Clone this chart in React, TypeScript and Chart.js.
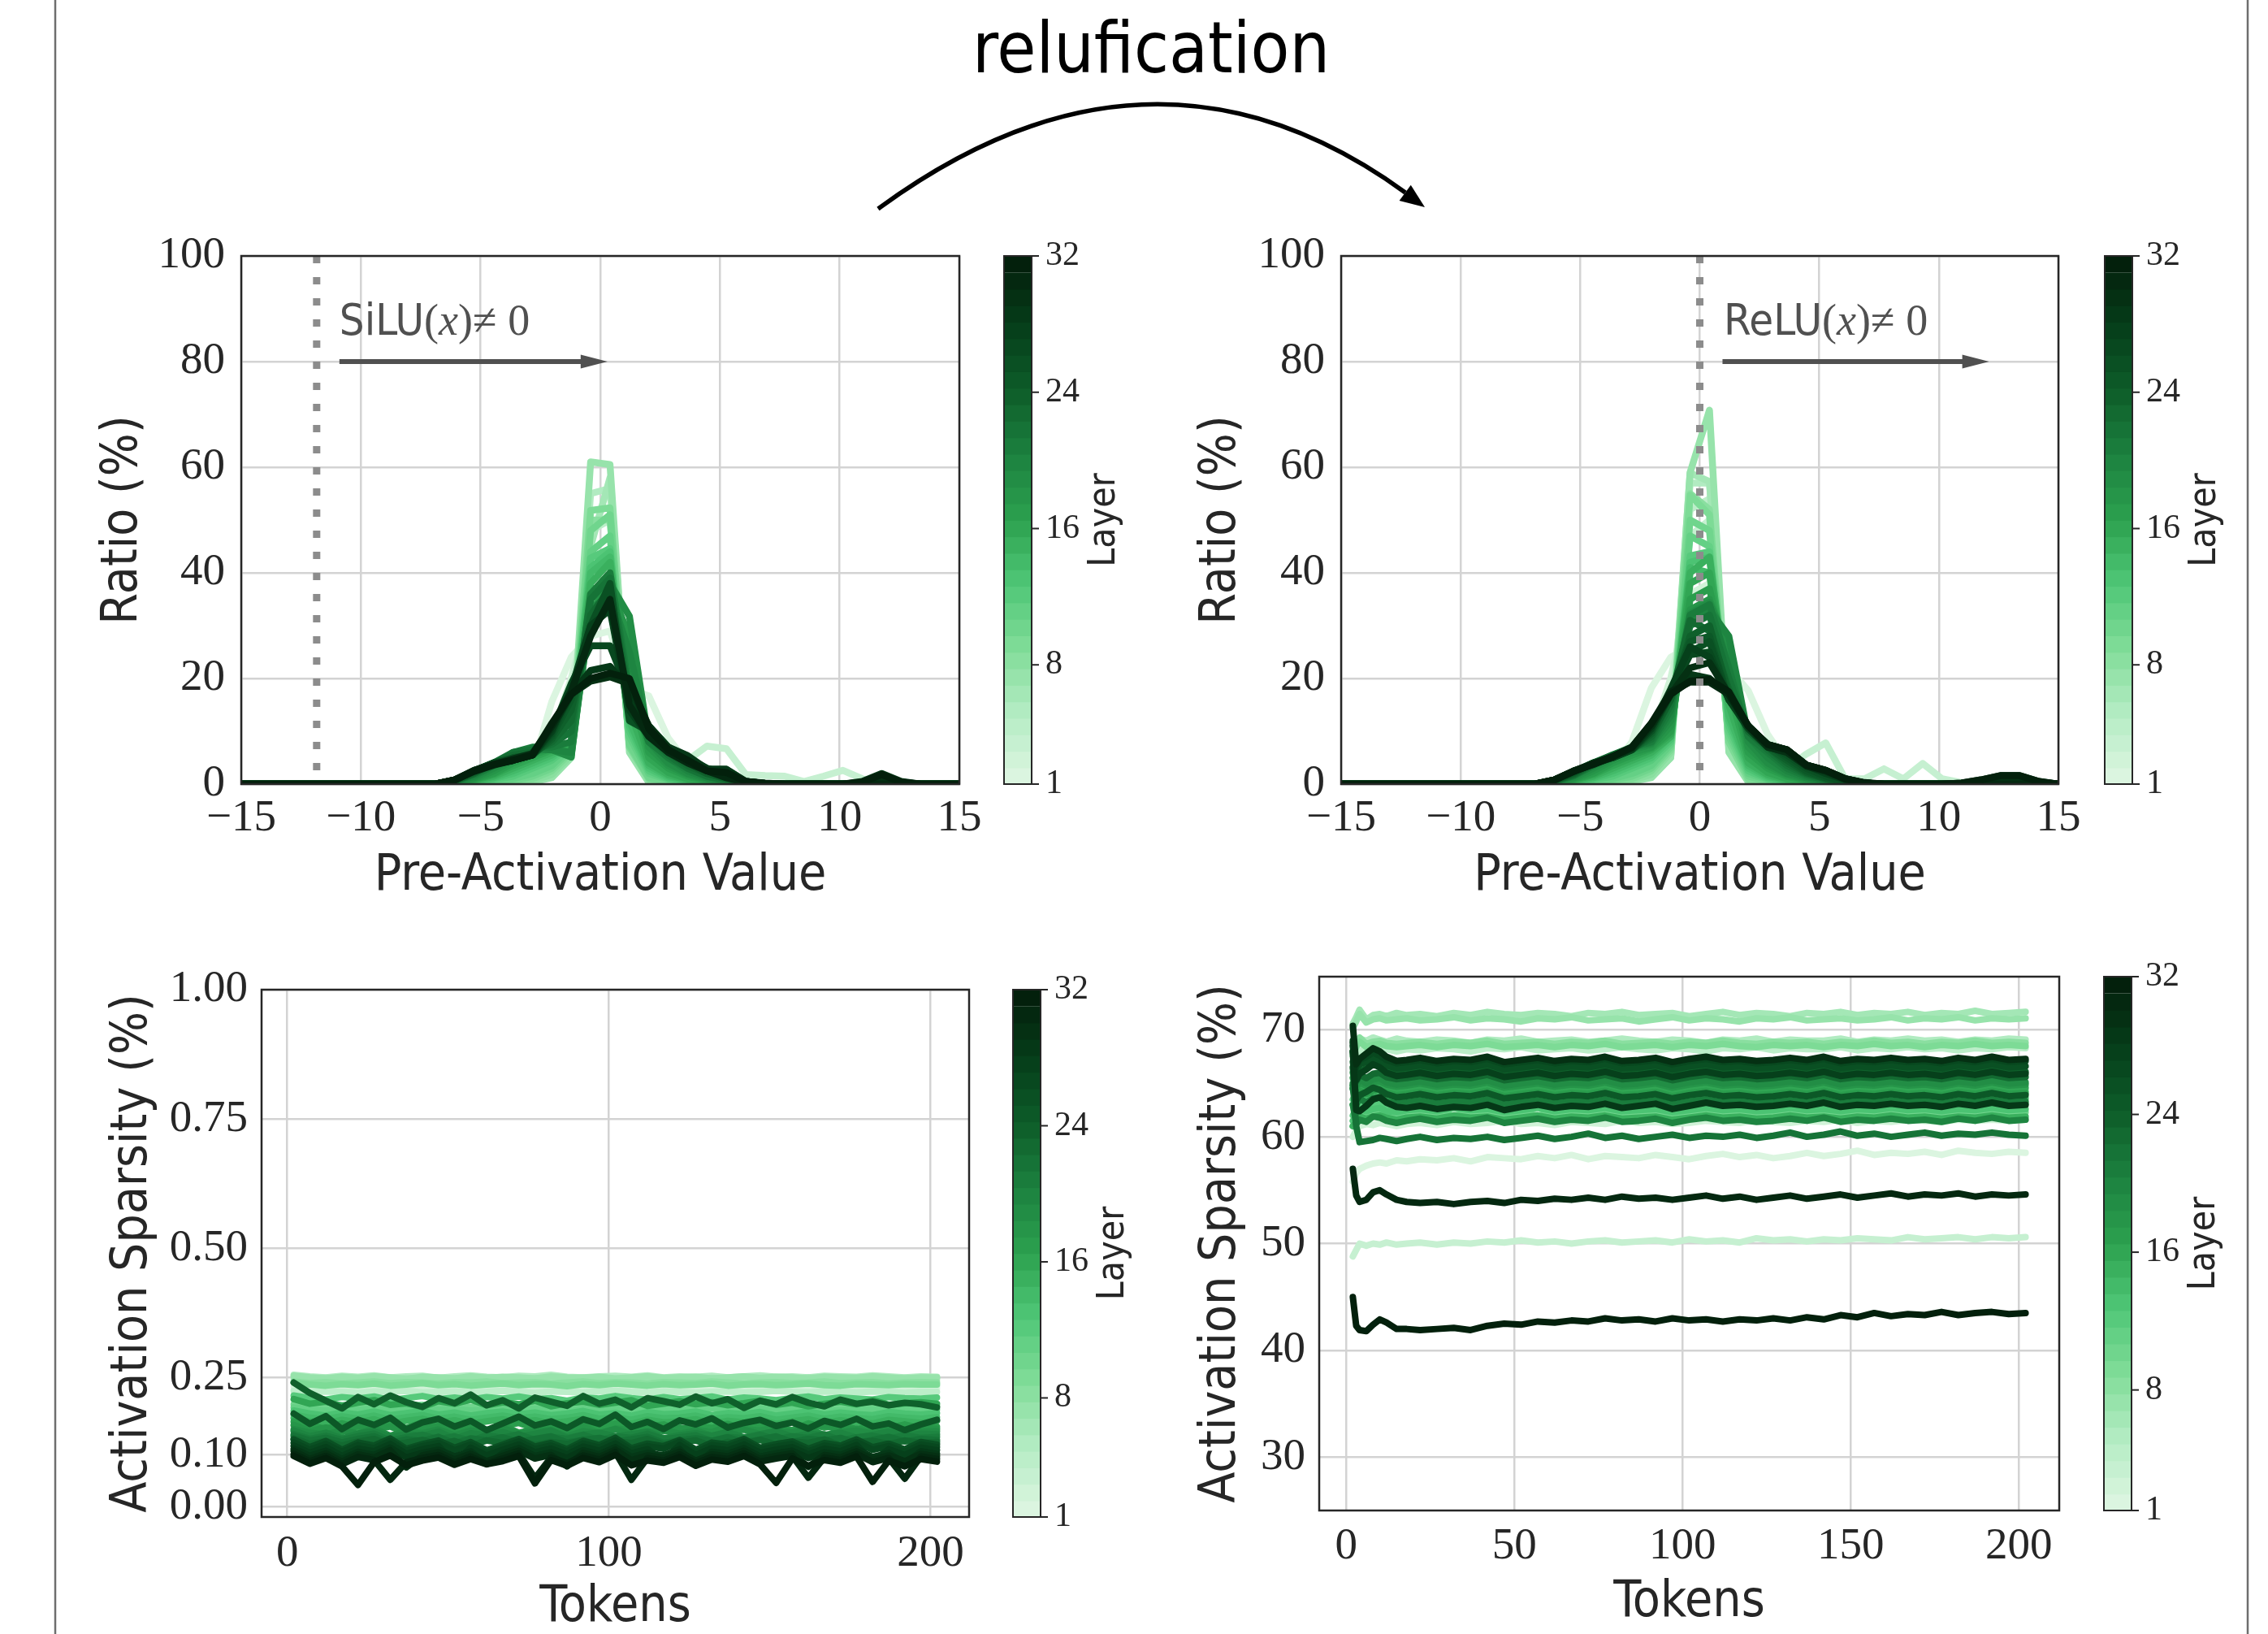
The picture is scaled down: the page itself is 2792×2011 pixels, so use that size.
import React, { useEffect, useRef } from "react";
import { Chart, registerables } from "chart.js";

Chart.register(...registerables);

// ======================= DATA =======================
const N_LAYERS = 32;
const LAYER_TICKS = [1, 8, 16, 24, 32];
// colour stops (layer 1 -> layer 32)
const CMAP_STOPS = ["#dbf5e0", "#b3ecc2", "#80dc98", "#4fc777", "#2ca14f", "#1c8240", "#0e5e2a", "#063f1a", "#03200c"];

// histogram bin positions (pre-activation value)
const X_HIST = [
  -15, -14.189, -13.378, -12.568, -11.757, -10.946, -10.135, -9.324, -8.514, -7.703,
  -6.892, -6.081, -5.27, -4.459, -3.649, -2.838, -2.027, -1.216, -0.405, 0.405,
  1.216, 2.027, 2.838, 3.649, 4.459, 5.27, 6.081, 6.892, 7.703, 8.514,
  9.324, 10.135, 10.946, 11.757, 12.568, 13.378, 14.189, 15,
];
const HIST_X_TICKS = [-15, -10, -5, 0, 5, 10, 15];
const HIST_Y_TICKS = [0, 20, 40, 60, 80, 100];

// Ratio (%) per layer (rows = layer 1..32), SiLU model
const SILU_RATIO: number[][] = [
  [0,0,0,0,0,0,0,0,0,0, 0,0,0.1,0.3,1,3,15.6,24,28,29,18,16.7,8.7, 4,2,1,0.3,0.1,0,0,0,0,0,0,0,0,0,0],
  [0,0,0,0,0,0,0,0,0,0, 0,0,0,0.2,0.8,2.5,9,20,34,36,16,9,5, 3,1.5,0.6,0.2,0,0,0,0,0,0,0,0,0,0,0],
  [0,0,0,0,0,0,0,0,0,0, 0,0,0,0.1,0.5,1.5,6,17,40,42,12,6,4, 4.5,7.2,6.7,1.8,1.6,1.5,0.5,1.5,2.6,1,0,0,0,0,0],
  [0,0,0,0,0,0,0,0,0,0, 0,0,0,0,0.3,1,1.5,6,48,50,8,0.5,0.2, 0,0,0,0,0,0,0,0,0,0,0,0,0,0,0],
  [0,0,0,0,0,0,0,0,0,0, 0,0,0,0,0.2,0.8,1.5,5.5,55,56,7,0.5,0.2, 0,0,0,0,0,0,0,0,0,0,0,0,0,0,0],
  [0,0,0,0,0,0,0,0,0,0, 0,0,0,0,0.2,0.5,1.5,5,45,58,7,0.4,0.1, 0,0,0,0,0,0,0,0,0,0,0,0,0,0,0],
  [0,0,0,0,0,0,0,0,0,0, 0,0,0,0,0.2,0.4,1.2,5,61,60.5,6,0.3,0.1, 0,0,0,0,0,0,0,0,0,0,0,0,0,0,0],
  [0,0,0,0,0,0,0,0,0,0, 0,0,0,0.1,0.3,0.6,1.8,5.5,50,50,8,0.8,0.3, 0,0,0,0,0,0,0,0,0,0,0,0,0,0,0],
  [0,0,0,0,0,0,0,0,0,0, 0,0,0,0.2,0.5,1,2.5,6,51.8,52.3,7,1,0.4, 0.1,0,0,0,0,0,0,0,0,0,0,0,0,0,0],
  [0,0,0,0,0,0,0,0,0,0, 0,0,0.1,0.3,0.6,1.5,3,6.5,48,51,7.5,1.2,0.5, 0.2,0,0,0,0,0,0,0,0,0,0,0,0,0,0],
  [0,0,0,0,0,0,0,0,0,0, 0,0,0.2,0.5,1,2,3.5,7,44,47,9,2,0.8, 0.3,0.1,0,0,0,0,0,0,0,0,0,0,0,0,0],
  [0,0,0,0,0,0,0,0,0,0, 0,0,0.3,0.8,1.5,3,4.5,7.5,42.8,44.6,10,2.5,1, 0.4,0.1,0,0,0,0,0,0,0,0,0,0,0,0,0],
  [0,0,0,0,0,0,0,0,0,0, 0,0.1,0.4,1,2,3.5,5,8,41,44,11,3,1.2, 0.5,0.2,0,0,0,0,0,0,0,0,0,0,0,0,0],
  [0,0,0,0,0,0,0,0,0,0, 0,0.1,0.5,1.2,2.5,4,5.5,8,40,43,12,3.5,1.5, 0.6,0.2,0,0,0,0,0,0,0,0,0,0,0,0,0],
  [0,0,0,0,0,0,0,0,0,0, 0,0.2,0.6,1.5,3,4.5,6,7.5,38,42,14,4,1.8, 0.8,0.3,0,0,0,0,0,0,0,0,0,0,0,0,0],
  [0,0,0,0,0,0,0,0,0,0, 0,0.2,0.7,1.8,3.5,5,6.5,7,36,40,18,5,2.2, 1,0.4,0.1,0,0,0,0,0,0,0,0,0,0,0,0],
  [0,0,0,0,0,0,0,0,0,0, 0,0.3,0.9,2,4,5.5,6.8,6,35,38,22,6,3, 1.5,0.6,0.2,0,0,0,0,0,0,0,0,0,0,0,0],
  [0,0,0,0,0,0,0,0,0,0, 0,0.3,1,2.5,4.5,6,6.9,5.5,33,37,28,7,3.5, 1.8,0.8,0.3,0,0,0,0,0,0,0,0,0,0,0,0],
  [0,0,0,0,0,0,0,0,0,0, 0,0.3,1.2,3,5,6.5,6.5,5.1,35,38,31.8,8,4, 2,1,0.3,0,0,0,0,0,0,0,0,0,0,0,0],
  [0,0,0,0,0,0,0,0,0,0, 0,0.4,1.5,3.5,5.5,6.8,6.5,6,33,36,25,9,5, 2.5,1.2,0.5,0,0,0,0,0,0,0,0,0,0,0,0],
  [0,0,0,0,0,0,0,0,0,0, 0,0.5,1.8,3.5,6,7,7,8,36,40,18,8,5, 3,1.5,0.6,0,0,0,0,0,0,0,0,0,0,0,0],
  [0,0,0,0,0,0,0,0,0,0, 0,0.5,2,4,6,6.5,7.5,10,35,39,16,9,5.5, 3,1.5,0.8,0.2,0,0,0,0,0,0,0,0,0,0,0],
  [0,0,0,0,0,0,0,0,0,0, 0,0.6,2,4,5.5,6,8,12,32,37,15,10,6, 3.5,2,1,0.2,0,0,0,0,0,0,0,0,0,0,0],
  [0,0,0,0,0,0,0,0,0,0, 0,0.6,2.2,4,5,5.5,8.5,14,30,35,14,10,6.5, 4,2,1,0.3,0,0,0,0,0,0,0,0,0,0,0],
  [0,0,0,0,0,0,0,0,0,0, 0,0.7,2.5,4,5,5.5,9,16,29,34,13,11,7, 4.5,2.5,1.2,0.3,0,0,0,0,0,0,0,0,0,0,0],
  [0,0,0,0,0,0,0,0,0,0, 0,0.7,2.5,4,4.8,5.5,9.5,17,30,38,12,10,6, 4.5,2.5,1.5,0.4,0,0,0,0,0,0,0,0,0,0,0],
  [0,0,0,0,0,0,0,0,0,0, 0,0.8,2.5,4,4.5,5.5,10,19,26.2,26.2,17,10,7, 5,2.8,2.8,0.5,0.1,0,0,0,0,0,0,0,0,0,0],
  [0,0,0,0,0,0,0,0,0,0, 0,0.8,2.5,3.8,4.5,5.5,10,18,30,33,14,9,6.5, 5,3,2,0.5,0.1,0,0,0,0,0,0,0,0,0,0],
  [0,0,0,0,0,0,0,0,0,0, 0,0.8,2.6,3.8,4.5,5.5,10.5,17,21.5,22.3,18,11,7, 5.4,2.8,2.8,0.5,0.2,0,0,0,0,0.5,2,0.5,0,0,0],
  [0,0,0,0,0,0,0,0,0,0, 0,0.8,2.6,3.7,4.8,5.8,11,17,19.5,20.3,19,11,6.5, 4.5,2.5,1.5,0.5,0.1,0,0,0,0,0.3,1,0.3,0,0,0],
  [0,0,0,0,0,0,0,0,0,0, 0,0.8,2.4,3.6,4.5,5.5,11,17.5,28,35,15,9,6, 4,2.5,1.2,0.3,0,0,0,0,0,0,0,0,0,0,0],
  [0,0,0,0,0,0,0,0,0,0, 0,0.8,2.5,3.7,4.5,5.5,11.5,17,20,21,20,10.5,6.5, 4.5,2.5,2.2,0.5,0.1,0,0,0,0,0.4,1.8,0.4,0,0,0],
];

// Ratio (%) per layer, ReLU (relufied) model
const RELU_RATIO: number[][] = [
  [0,0,0,0,0,0,0,0,0,0, 0,0,0.2,0.8,3,8,18.2,24,26,25,22,17.7,9.4, 4,1.5,0.5,0.2,0,0,0,0,0,0,0,0,0,0,0],
  [0,0,0,0,0,0,0,0,0,0, 0,0,0,0.3,1,3,9,20,36,38,18,8,4, 2,1,0.3,0,0,0,0,0,0,0,0,0,0,0,0],
  [0,0,0,0,0,0,0,0,0,0, 0,0,0,0.1,0.5,1.5,5,15,47,50,12,6,4, 3,5.7,7.8,1,1,2.9,1,3.9,1,0.3,0,0,0,0,0],
  [0,0,0,0,0,0,0,0,0,0, 0,0,0,0,0.3,1,1.5,5,52,54,8,1,0.3, 0,0,0,0,0,0,0,0,0,0,0,0,0,0,0],
  [0,0,0,0,0,0,0,0,0,0, 0,0,0,0,0.2,0.8,1.5,5,57,57,7,0.8,0.2, 0,0,0,0,0,0,0,0,0,0,0,0,0,0,0],
  [0,0,0,0,0,0,0,0,0,0, 0,0,0,0,0.2,0.6,1.4,6.8,58.9,57.3,7,0.5,0.2, 0,0,0,0,0,0,0,0,0,0,0,0,0,0,0],
  [0,0,0,0,0,0,0,0,0,0, 0,0,0,0,0.2,0.5,1.2,5,59,70.8,6,0.4,0.1, 0,0,0,0,0,0,0,0,0,0,0,0,0,0,0],
  [0,0,0,0,0,0,0,0,0,0, 0,0,0,0.1,0.3,0.7,1.8,6,55,52,8,0.8,0.3, 0,0,0,0,0,0,0,0,0,0,0,0,0,0,0],
  [0,0,0,0,0,0,0,0,0,0, 0,0,0,0.2,0.5,1,2.5,6.5,54.7,51,8,1,0.4, 0.1,0,0,0,0,0,0,0,0,0,0,0,0,0,0],
  [0,0,0,0,0,0,0,0,0,0, 0,0,0.1,0.3,0.7,1.5,3,7,50,48,9,1.5,0.5, 0.2,0,0,0,0,0,0,0,0,0,0,0,0,0,0],
  [0,0,0,0,0,0,0,0,0,0, 0,0,0.2,0.5,1,2,3.5,7.5,47,45,10,2,0.8, 0.3,0.1,0,0,0,0,0,0,0,0,0,0,0,0,0],
  [0,0,0,0,0,0,0,0,0,0, 0,0,0.3,0.8,1.5,3,4.5,8,43.2,44,11,2.5,1, 0.4,0.1,0,0,0,0,0,0,0,0,0,0,0,0,0],
  [0,0,0,0,0,0,0,0,0,0, 0,0.1,0.4,1,2,3.5,5,8.5,42,43,12,3,1.2, 0.5,0.2,0,0,0,0,0,0,0,0,0,0,0,0,0],
  [0,0,0,0,0,0,0,0,0,0, 0,0.1,0.5,1.2,2.5,4,5.5,9,41,40,13,3.5,1.5, 0.6,0.2,0,0,0,0,0,0,0,0,0,0,0,0,0],
  [0,0,0,0,0,0,0,0,0,0, 0,0.2,0.6,1.5,3,4.5,6,9,40,43,15,4,1.8, 0.8,0.3,0,0,0,0,0,0,0,0,0,0,0,0,0],
  [0,0,0,0,0,0,0,0,0,0, 0,0.2,0.7,1.8,3.5,5,6.5,9.5,38,40,18,5,2.2, 1,0.4,0.1,0,0,0,0,0,0,0,0,0,0,0,0],
  [0,0,0,0,0,0,0,0,0,0, 0,0.3,0.9,2,4,5.5,6.8,10,35,37,21,6,3, 1.5,0.6,0.2,0,0,0,0,0,0,0,0,0,0,0,0],
  [0,0,0,0,0,0,0,0,0,0, 0,0.3,1,2.5,4.5,6,7,11,33,35,24,7,3.5, 1.8,0.8,0.3,0,0,0,0,0,0,0,0,0,0,0,0],
  [0,0,0,0,0,0,0,0,0,0, 0,0.3,1.2,3,5,6.5,7.5,12,32.3,34.4,26,8,4, 2,1,0.3,0,0,0,0,0,0,0,0,0,0,0,0],
  [0,0,0,0,0,0,0,0,0,0, 0,0.4,1.5,3.5,5.2,6.8,7.8,13,31,33,28,9,5, 2.5,1.2,0.5,0,0,0,0,0,0,0,0,0,0,0,0],
  [0,0,0,0,0,0,0,0,0,0, 0,0.5,1.6,3.5,5.5,7,8,14,32,34,22,9,6, 3,1.5,0.6,0,0,0,0,0,0,0,0,0,0,0,0],
  [0,0,0,0,0,0,0,0,0,0, 0,0.5,1.7,3.8,5.5,6.8,8.5,15,30,32,20,10,6.5, 3.5,1.8,0.8,0.2,0,0,0,0,0,0,0,0,0,0,0],
  [0,0,0,0,0,0,0,0,0,0, 0,0.6,1.8,4,5.5,6.5,9,16,31,29,18,10,7, 4,2,1,0.2,0,0,0,0,0,0,0,0,0,0,0],
  [0,0,0,0,0,0,0,0,0,0, 0,0.6,2,4,5.2,6.5,9.5,16,28,30,17,10.5,7, 4.5,2.2,1,0.3,0,0,0,0,0,0,0,0,0,0,0],
  [0,0,0,0,0,0,0,0,0,0, 0,0.7,2.2,4,5,6.5,10,17,27,28,16,11,7.5, 5,2.5,1.2,0.3,0,0,0,0,0,0,0,0,0,0,0],
  [0,0,0,0,0,0,0,0,0,0, 0,0.7,2.3,4,5,6.5,10,17,25,27,16,11,7.5, 5.5,3,1.5,0.4,0,0,0,0,0,0,0,0,0,0,0],
  [0,0,0,0,0,0,0,0,0,0, 0,0.8,2.4,4,5,6.6,10.5,17,24.5,25,16,11,7.5, 6.5,3.6,2.6,1,0.2,0,0,0,0,0,0,0,0,0,0],
  [0,0,0,0,0,0,0,0,0,0, 0,0.8,2.4,3.8,5,6.5,10.5,18,26,24,16,10.5,7, 6,3.5,2,0.8,0.2,0,0,0,0,0,0,0,0,0,0],
  [0,0,0,0,0,0,0,0,0,0, 0,0.8,2.5,3.8,5.2,6.8,11,17,20.8,20,17,11,7.5, 6.5,3.6,2.6,1,0.2,0,0,0,0,0.2,0.8,1.6,1.6,0.5,0],
  [0,0,0,0,0,0,0,0,0,0, 0,0.8,2.5,3.8,5.2,6.8,11,17,22,23,17,11,7, 6,3.4,2.4,0.9,0.2,0,0,0,0,0.1,0.5,1.2,1.2,0.4,0],
  [0,0,0,0,0,0,0,0,0,0, 0,0.8,2.5,3.7,5.2,7,11.5,17.5,19.3,19.3,17,11,7.5, 6.5,3.6,2.6,1,0.2,0,0,0,0,0,0,0,0,0,0],
  [0,0,0,0,0,0,0,0,0,0, 0,0.8,2.4,3.8,5.2,7,11.5,17,19.5,19.8,17.5,11,7.5, 6.5,3.6,2.6,1,0.3,0,0,0,0,0.2,0.8,1.6,1.6,0.5,0],
];

// tokens for the sparsity plots
const TOKENS_SILU = [2,7,12,17,22,27,32,37,42,47,52,57,62,67,72,77,82,87,92,97,102,107,112,117,122,127,132,137,142,147,152,157,162,167,172,177,182,187,192,197,202];
const TOKENS_RELU = [2,3,4,6,8,10,12,15,18,22,27,32,37,42,47,52,57,62,67,72,77,82,87,92,97,102,107,112,117,122,127,132,137,142,147,152,157,162,167,172,177,182,187,192,197,202];
const SILU_TOKEN_TICKS = [0, 100, 200];
const RELU_TOKEN_TICKS = [0, 50, 100, 150, 200];
const SILU_SPARSITY_TICKS = [0, 0.1, 0.25, 0.5, 0.75, 1.0];
const RELU_SPARSITY_TICKS = [30, 40, 50, 60, 70];

// Activation sparsity per layer, SiLU model
const SILU_SPARSITY: number[][] = [
  [0.226,0.229,0.227,0.230,0.228,0.225,0.229,0.231,0.227,0.228,0.226,0.230,0.229,0.227,0.228,0.231,0.226,0.229,0.228,0.227,0.230,0.228,0.226,0.229,0.231,0.228,0.227,0.229,0.226,0.228,0.230,0.227,0.229,0.228,0.226,0.230,0.229,0.227,0.228,0.229,0.228],
  [0.232,0.234,0.233,0.231,0.234,0.233,0.235,0.232,0.233,0.234,0.231,0.233,0.235,0.232,0.233,0.234,0.233,0.231,0.234,0.232,0.233,0.235,0.233,0.232,0.234,0.233,0.231,0.233,0.234,0.232,0.233,0.235,0.233,0.232,0.234,0.233,0.232,0.234,0.233,0.232,0.233],
  [0.247,0.245,0.244,0.246,0.245,0.243,0.246,0.245,0.244,0.246,0.245,0.247,0.244,0.245,0.246,0.244,0.245,0.247,0.245,0.244,0.246,0.245,0.243,0.245,0.246,0.244,0.245,0.246,0.245,0.244,0.246,0.245,0.244,0.246,0.245,0.243,0.245,0.246,0.244,0.245,0.245],
  [0.224,0.221,0.223,0.222,0.220,0.223,0.222,0.224,0.221,0.222,0.223,0.221,0.222,0.224,0.222,0.220,0.223,0.222,0.221,0.223,0.224,0.222,0.221,0.223,0.222,0.220,0.222,0.223,0.221,0.222,0.224,0.222,0.221,0.223,0.222,0.221,0.223,0.222,0.220,0.222,0.222],
  [0.255,0.252,0.250,0.253,0.251,0.254,0.250,0.252,0.253,0.249,0.252,0.254,0.251,0.250,0.253,0.252,0.255,0.251,0.250,0.252,0.253,0.251,0.254,0.250,0.252,0.251,0.253,0.250,0.252,0.254,0.251,0.252,0.250,0.253,0.252,0.251,0.254,0.252,0.250,0.252,0.251],
  [0.250,0.247,0.249,0.246,0.248,0.250,0.247,0.249,0.248,0.246,0.249,0.247,0.250,0.248,0.246,0.249,0.248,0.247,0.250,0.248,0.246,0.249,0.247,0.248,0.250,0.247,0.249,0.248,0.246,0.248,0.249,0.247,0.250,0.248,0.247,0.249,0.248,0.246,0.249,0.248,0.248],
  [0.253,0.250,0.248,0.251,0.249,0.252,0.250,0.247,0.251,0.250,0.248,0.252,0.249,0.251,0.250,0.248,0.252,0.250,0.249,0.251,0.248,0.250,0.252,0.249,0.250,0.251,0.248,0.250,0.252,0.249,0.251,0.250,0.248,0.251,0.250,0.249,0.252,0.250,0.248,0.250,0.250],
  [0.242,0.239,0.241,0.238,0.240,0.242,0.239,0.241,0.240,0.238,0.241,0.240,0.242,0.239,0.240,0.241,0.238,0.240,0.242,0.239,0.241,0.240,0.238,0.241,0.240,0.239,0.242,0.240,0.238,0.240,0.241,0.239,0.240,0.242,0.239,0.240,0.241,0.238,0.240,0.241,0.240],
  [0.240,0.236,0.234,0.237,0.235,0.238,0.234,0.236,0.239,0.235,0.237,0.234,0.236,0.238,0.235,0.237,0.236,0.233,0.237,0.235,0.238,0.236,0.234,0.237,0.235,0.236,0.238,0.234,0.236,0.237,0.235,0.236,0.238,0.235,0.234,0.237,0.236,0.235,0.237,0.236,0.236],
  [0.198,0.195,0.193,0.196,0.194,0.197,0.193,0.195,0.197,0.194,0.196,0.193,0.195,0.197,0.194,0.196,0.195,0.192,0.196,0.194,0.197,0.195,0.193,0.196,0.194,0.195,0.197,0.193,0.195,0.196,0.194,0.195,0.197,0.194,0.193,0.196,0.195,0.194,0.196,0.195,0.195],
  [0.192,0.188,0.186,0.189,0.187,0.190,0.186,0.188,0.191,0.187,0.189,0.186,0.188,0.190,0.187,0.189,0.188,0.185,0.189,0.187,0.190,0.188,0.186,0.189,0.187,0.188,0.190,0.186,0.188,0.189,0.187,0.188,0.190,0.187,0.186,0.189,0.188,0.187,0.189,0.188,0.188],
  [0.215,0.210,0.207,0.212,0.209,0.213,0.206,0.210,0.214,0.208,0.211,0.207,0.212,0.209,0.213,0.208,0.210,0.205,0.211,0.209,0.214,0.210,0.207,0.212,0.208,0.210,0.213,0.207,0.211,0.209,0.206,0.210,0.213,0.208,0.211,0.209,0.207,0.212,0.210,0.209,0.211],
  [0.186,0.180,0.176,0.182,0.178,0.184,0.177,0.181,0.185,0.178,0.182,0.176,0.181,0.184,0.179,0.182,0.177,0.180,0.185,0.178,0.181,0.176,0.183,0.179,0.180,0.184,0.177,0.181,0.179,0.183,0.176,0.180,0.184,0.178,0.182,0.179,0.177,0.183,0.180,0.178,0.181],
  [0.178,0.172,0.169,0.175,0.170,0.176,0.168,0.173,0.177,0.170,0.174,0.168,0.172,0.176,0.171,0.174,0.169,0.172,0.177,0.170,0.173,0.168,0.175,0.171,0.172,0.176,0.169,0.173,0.171,0.175,0.168,0.172,0.176,0.170,0.174,0.171,0.169,0.175,0.172,0.170,0.173],
  [0.172,0.165,0.161,0.168,0.163,0.169,0.160,0.166,0.170,0.162,0.167,0.160,0.165,0.169,0.163,0.167,0.161,0.165,0.170,0.162,0.166,0.160,0.168,0.163,0.165,0.169,0.161,0.166,0.163,0.168,0.160,0.165,0.169,0.162,0.167,0.163,0.161,0.168,0.165,0.162,0.166],
  [0.208,0.199,0.203,0.195,0.201,0.206,0.197,0.200,0.193,0.204,0.199,0.207,0.196,0.202,0.198,0.205,0.194,0.200,0.203,0.197,0.201,0.206,0.195,0.199,0.204,0.198,0.202,0.196,0.200,0.205,0.197,0.201,0.194,0.199,0.203,0.198,0.206,0.197,0.200,0.202,0.199],
  [0.165,0.158,0.150,0.161,0.153,0.147,0.159,0.152,0.163,0.149,0.156,0.160,0.148,0.155,0.162,0.151,0.157,0.146,0.158,0.153,0.161,0.149,0.155,0.159,0.147,0.156,0.152,0.160,0.150,0.157,0.154,0.148,0.161,0.153,0.158,0.150,0.156,0.152,0.159,0.151,0.155],
  [0.158,0.146,0.153,0.144,0.157,0.149,0.155,0.142,0.151,0.156,0.145,0.152,0.148,0.157,0.143,0.150,0.154,0.147,0.156,0.141,0.151,0.148,0.155,0.146,0.153,0.149,0.144,0.156,0.150,0.147,0.154,0.145,0.152,0.157,0.148,0.151,0.143,0.153,0.149,0.155,0.150],
  [0.150,0.143,0.139,0.148,0.141,0.151,0.137,0.146,0.142,0.149,0.138,0.147,0.143,0.152,0.140,0.145,0.148,0.136,0.146,0.142,0.150,0.139,0.144,0.148,0.141,0.147,0.137,0.145,0.149,0.140,0.146,0.143,0.151,0.138,0.144,0.147,0.141,0.148,0.139,0.145,0.146],
  [0.147,0.136,0.143,0.132,0.141,0.146,0.134,0.140,0.137,0.145,0.131,0.142,0.138,0.144,0.135,0.141,0.147,0.133,0.139,0.143,0.136,0.140,0.145,0.132,0.138,0.142,0.137,0.144,0.134,0.140,0.146,0.135,0.141,0.138,0.143,0.133,0.139,0.145,0.136,0.141,0.140],
  [0.140,0.131,0.137,0.129,0.136,0.141,0.128,0.134,0.139,0.130,0.136,0.127,0.138,0.133,0.140,0.129,0.135,0.131,0.139,0.128,0.136,0.133,0.141,0.130,0.134,0.138,0.127,0.135,0.132,0.139,0.130,0.136,0.133,0.140,0.128,0.134,0.137,0.131,0.138,0.133,0.135],
  [0.137,0.128,0.133,0.124,0.131,0.136,0.123,0.130,0.127,0.135,0.122,0.132,0.128,0.134,0.125,0.131,0.136,0.124,0.129,0.133,0.126,0.130,0.135,0.123,0.128,0.132,0.127,0.134,0.124,0.130,0.136,0.125,0.131,0.128,0.133,0.123,0.129,0.135,0.126,0.131,0.129],
  [0.132,0.121,0.127,0.118,0.126,0.131,0.119,0.124,0.129,0.120,0.127,0.117,0.128,0.123,0.130,0.119,0.125,0.121,0.129,0.118,0.126,0.123,0.131,0.120,0.124,0.128,0.117,0.125,0.122,0.129,0.120,0.126,0.123,0.130,0.118,0.124,0.127,0.121,0.128,0.123,0.125],
  [0.240,0.220,0.205,0.190,0.212,0.198,0.215,0.202,0.193,0.210,0.200,0.217,0.196,0.206,0.190,0.211,0.203,0.195,0.214,0.199,0.207,0.192,0.210,0.204,0.197,0.213,0.200,0.208,0.191,0.205,0.198,0.212,0.201,0.194,0.207,0.199,0.203,0.196,0.201,0.198,0.192],
  [0.180,0.160,0.175,0.150,0.168,0.158,0.172,0.149,0.163,0.170,0.155,0.166,0.148,0.161,0.174,0.157,0.165,0.152,0.169,0.160,0.178,0.154,0.164,0.150,0.167,0.159,0.171,0.153,0.162,0.168,0.156,0.163,0.151,0.166,0.158,0.170,0.155,0.161,0.148,0.159,0.168],
  [0.130,0.115,0.127,0.110,0.124,0.118,0.132,0.112,0.121,0.128,0.114,0.125,0.109,0.120,0.131,0.116,0.123,0.111,0.127,0.119,0.133,0.113,0.122,0.117,0.129,0.110,0.124,0.120,0.131,0.114,0.121,0.126,0.112,0.123,0.118,0.130,0.115,0.122,0.111,0.125,0.120],
  [0.124,0.110,0.121,0.106,0.119,0.113,0.127,0.108,0.117,0.123,0.109,0.120,0.104,0.116,0.126,0.111,0.118,0.107,0.122,0.114,0.128,0.109,0.117,0.112,0.125,0.105,0.119,0.115,0.126,0.110,0.116,0.121,0.107,0.118,0.113,0.125,0.110,0.117,0.106,0.120,0.115],
  [0.118,0.104,0.115,0.098,0.112,0.107,0.121,0.102,0.111,0.117,0.085,0.114,0.099,0.110,0.120,0.105,0.112,0.101,0.116,0.108,0.122,0.103,0.111,0.090,0.119,0.100,0.113,0.109,0.120,0.104,0.110,0.115,0.101,0.112,0.107,0.119,0.088,0.111,0.100,0.114,0.109],
  [0.112,0.098,0.108,0.092,0.106,0.100,0.114,0.095,0.104,0.110,0.097,0.107,0.082,0.103,0.113,0.098,0.105,0.094,0.109,0.101,0.115,0.096,0.104,0.099,0.111,0.080,0.106,0.102,0.113,0.097,0.103,0.108,0.094,0.105,0.100,0.112,0.096,0.104,0.083,0.107,0.102],
  [0.108,0.092,0.103,0.087,0.101,0.095,0.109,0.076,0.099,0.105,0.091,0.102,0.088,0.098,0.108,0.093,0.100,0.078,0.104,0.096,0.110,0.090,0.099,0.094,0.106,0.089,0.101,0.097,0.108,0.092,0.098,0.103,0.077,0.100,0.095,0.107,0.091,0.099,0.088,0.102,0.097],
  [0.102,0.088,0.098,0.082,0.096,0.090,0.052,0.086,0.094,0.100,0.085,0.097,0.083,0.093,0.103,0.055,0.095,0.084,0.099,0.091,0.105,0.052,0.094,0.089,0.101,0.084,0.096,0.092,0.103,0.087,0.093,0.098,0.056,0.095,0.090,0.102,0.086,0.094,0.054,0.097,0.092],
  [0.098,0.083,0.094,0.078,0.042,0.086,0.099,0.080,0.089,0.095,0.081,0.092,0.082,0.088,0.098,0.045,0.090,0.079,0.094,0.086,0.100,0.080,0.089,0.085,0.096,0.079,0.091,0.087,0.098,0.082,0.046,0.093,0.079,0.090,0.085,0.097,0.048,0.089,0.078,0.092,0.087],
];

// Activation sparsity (%) per layer, ReLU model
const RELU_SPARSITY: number[][] = [
  [55.8,56.6,57.0,57.3,57.5,57.6,57.5,57.8, 57.7,57.9,57.8,58.0,57.7,58.1,58.0,57.9,58.2,58.0, 58.3,57.9,58.2,58.1,58.0,58.3,58.1,57.9,58.2,58.4, 58.1,58.3,58.0,58.2,58.5,58.2,58.4,58.7,58.3,58.5, 58.4,58.6,58.3,58.7,58.5,58.4,58.6,58.5],
  [60.0,60.6,61.0,61.2,61.1,61.3,61.2,61.0, 61.2,61.3,61.1,61.4,61.2,61.3,61.5,61.2,61.3,61.1, 61.4,61.3,61.2,61.5,61.3,61.4,61.2,61.3,61.5,61.4, 61.3,61.6,61.4,61.3,61.5,61.4,61.6,61.3,61.5,61.4, 61.6,61.5,61.4,61.6,61.5,61.6,61.5,61.6],
  [48.8,49.4,50.0,49.8,50.0,49.9,50.1,49.9, 50.0,50.1,49.9,50.1,50.0,50.2,50.1,50.3,50.1,50.2, 50.0,50.2,50.3,50.1,50.2,50.3,50.1,50.4,50.2,50.3, 50.1,50.5,50.3,50.4,50.2,50.4,50.3,50.5,50.4,50.3, 50.6,50.4,50.5,50.6,50.4,50.6,50.5,50.6],
  [66.5,67.5,68.0,68.3,68.1,68.4,68.2,68.0, 68.2,68.1,68.3,68.2,68.0,68.3,68.2,68.4,68.1,68.2, 68.3,68.1,68.2,68.4,68.2,68.1,68.3,68.2,68.0,68.3, 68.2,68.4,68.1,68.3,68.2,68.2,68.4,68.1,68.3,68.2, 68.4,68.2,68.3,68.1,68.3,68.2,68.4,68.3],
  [67.8,68.6,69.2,69.0,69.3,69.1,68.9,69.2, 69.0,68.9,69.1,69.0,68.8,69.1,69.0,69.2,68.9,69.0, 69.1,68.9,69.0,69.2,69.0,68.9,69.1,69.0,68.8,69.1, 69.0,69.2,68.9,69.1,69.0,69.0,69.2,68.9,69.1,69.0, 69.2,69.0,69.1,68.9,69.1,69.0,69.2,69.1],
  [70.6,71.2,71.9,71.0,71.4,71.5,71.3,71.6, 71.4,71.5,71.3,71.6,71.4,71.7,71.5,71.4,71.6,71.5, 71.3,71.6,71.5,71.7,71.4,71.5,71.6,71.3,71.5,71.7, 71.4,71.6,71.5,71.3,71.6,71.5,71.7,71.4,71.6,71.5, 71.7,71.4,71.6,71.5,71.8,71.5,71.6,71.7],
  [70.2,70.8,71.5,70.7,71.0,71.1,70.9,71.0, 71.1,70.9,71.0,71.2,70.9,71.1,71.0,70.8,71.1,71.0, 71.2,70.9,71.0,71.1,70.8,71.0,71.2,70.9,71.1,71.0, 70.8,71.1,71.0,71.2,70.9,71.0,71.1,70.9,71.0,71.2, 70.9,71.1,71.0,71.2,70.9,71.1,71.0,71.1],
  [68.0,68.9,69.3,68.7,68.9,69.0,68.8,68.7, 68.8,68.9,68.7,68.9,68.8,69.0,68.7,68.8,68.9,68.7, 68.9,68.8,69.0,68.7,68.8,68.9,68.7,68.9,68.8,69.0, 68.8,68.7,68.9,68.8,68.9,68.7,68.9,68.8,69.0,68.8, 68.9,68.7,68.9,68.8,69.0,68.8,68.9,68.8],
  [67.6,68.4,68.9,68.4,68.6,68.7,68.5,68.4, 68.5,68.6,68.4,68.6,68.5,68.7,68.4,68.5,68.6,68.4, 68.6,68.5,68.7,68.4,68.5,68.6,68.4,68.6,68.5,68.7, 68.5,68.4,68.6,68.5,68.6,68.4,68.6,68.5,68.7,68.5, 68.6,68.4,68.6,68.5,68.7,68.5,68.6,68.5],
  [61.0,61.8,62.3,62.0,62.2,62.4,62.1,62.0, 62.2,62.1,62.3,62.0,62.2,62.4,62.1,62.2,62.0,62.3, 62.2,62.1,62.4,62.2,62.0,62.3,62.1,62.2,62.4,62.1, 62.3,62.2,62.0,62.3,62.2,62.4,62.1,62.3,62.2,62.4, 62.2,62.3,62.1,62.4,62.2,62.3,62.2,62.3],
  [63.5,64.0,64.5,64.2,64.4,64.5,64.2,64.1, 64.2,64.3,64.1,64.4,64.2,64.3,64.0,64.2,64.4,64.1, 64.3,64.2,64.4,64.1,64.2,64.3,64.0,64.2,64.4,64.2, 64.3,64.1,64.2,64.4,64.2,64.3,64.1,64.3,64.2,64.4, 64.2,64.3,64.1,64.3,64.2,64.4,64.2,64.3],
  [62.0,62.6,63.2,62.9,63.1,63.3,63.0,62.8, 63.0,63.1,62.9,63.2,63.0,63.1,62.8,63.0,63.2,62.9, 63.1,63.0,63.2,62.9,63.0,63.1,62.8,63.0,63.2,63.0, 63.1,62.9,63.0,63.2,63.0,63.1,62.9,63.1,63.0,63.2, 63.0,63.1,62.9,63.1,63.0,63.2,63.0,63.1],
  [61.5,62.0,62.6,62.4,62.6,62.7,62.4,62.3, 62.5,62.6,62.4,62.7,62.5,62.6,62.3,62.5,62.7,62.4, 62.6,62.5,62.7,62.4,62.5,62.6,62.3,62.5,62.7,62.5, 62.6,62.4,62.5,62.7,62.5,62.6,62.4,62.6,62.5,62.7, 62.5,62.6,62.4,62.6,62.5,62.7,62.5,62.6],
  [63.0,63.3,63.8,63.5,63.7,63.8,63.5,63.4, 63.5,63.6,63.4,63.7,63.5,63.6,63.3,63.5,63.7,63.4, 63.6,63.5,63.7,63.4,63.5,63.6,63.3,63.5,63.7,63.5, 63.6,63.4,63.5,63.7,63.5,63.6,63.4,63.6,63.5,63.7, 63.5,63.6,63.4,63.6,63.5,63.7,63.5,63.6],
  [61.0,61.4,61.9,61.7,61.9,62.0,61.8,61.6, 61.8,61.9,61.7,62.0,61.8,61.9,61.6,61.8,62.0,61.7, 61.9,61.8,62.0,61.7,61.8,61.9,61.6,61.8,62.0,61.8, 61.9,61.7,61.8,62.0,61.8,61.9,61.7,61.9,61.8,62.0, 61.8,61.9,61.7,61.9,61.8,62.0,61.8,61.9],
  [64.8,64.3,64.9,64.5,64.8,64.9,64.6,64.4, 64.5,64.7,64.4,64.6,64.5,64.8,64.3,64.5,64.7,64.4, 64.6,64.5,64.8,64.4,64.5,64.7,64.3,64.6,64.8,64.5, 64.6,64.4,64.5,64.7,64.5,64.8,64.4,64.6,64.5,64.7, 64.5,64.6,64.4,64.7,64.5,64.8,64.5,64.6],
  [64.5,63.7,64.3,64.0,64.3,64.4,64.1,63.9, 64.0,64.2,63.9,64.1,64.0,64.3,63.8,64.0,64.2,63.9, 64.1,64.0,64.3,63.9,64.0,64.2,63.8,64.1,64.3,64.0, 64.1,63.9,64.0,64.2,64.0,64.3,63.9,64.1,64.0,64.2, 64.0,64.1,63.9,64.2,64.0,64.3,64.0,64.1],
  [65.5,64.6,65.1,64.8,65.1,65.2,64.9,64.7, 64.8,65.0,64.7,64.9,64.8,65.1,64.6,64.8,65.0,64.7, 64.9,64.8,65.1,64.7,64.8,65.0,64.6,64.9,65.1,64.8, 64.9,64.7,64.8,65.0,64.8,65.1,64.7,64.9,64.8,65.0, 64.8,64.9,64.7,65.0,64.8,65.1,64.8,64.9],
  [66.0,64.8,65.4,65.0,65.4,65.5,65.1,64.9, 65.0,65.2,64.9,65.1,65.0,65.3,64.8,65.0,65.2,64.9, 65.1,65.0,65.3,64.9,65.0,65.2,64.8,65.1,65.3,65.0, 65.1,64.9,65.0,65.2,65.0,65.3,64.9,65.1,65.0,65.2, 65.0,65.1,64.9,65.2,65.0,65.3,65.0,65.1],
  [63.0,61.2,61.6,61.4,61.9,61.8,61.5,61.3, 61.5,61.7,61.4,61.6,61.5,61.8,61.3,61.5,61.7,61.4, 61.6,61.5,61.8,61.4,61.5,61.7,61.3,61.6,61.8,61.5, 61.6,61.4,61.5,61.7,61.5,61.8,61.4,61.6,61.5,61.7, 61.5,61.6,61.4,61.7,61.5,61.8,61.5,61.6],
  [64.5,63.0,63.6,63.2,63.6,63.7,63.3,63.1, 63.2,63.4,63.1,63.3,63.2,63.5,63.0,63.2,63.4,63.1, 63.3,63.2,63.5,63.1,63.2,63.4,63.0,63.3,63.5,63.2, 63.3,63.1,63.2,63.4,63.2,63.5,63.1,63.3,63.2,63.4, 63.2,63.3,63.1,63.4,63.2,63.5,63.2,63.3],
  [65.0,61.0,59.5,59.6,59.7,59.9,59.8,59.6, 59.8,60.0,59.7,59.9,59.8,60.0,59.7,59.9,60.1,59.8, 60.0,60.3,59.9,60.1,59.8,60.0,60.2,59.9,60.1,60.0, 60.2,59.9,60.1,60.4,60.0,60.2,60.5,60.1,60.3,60.0, 60.2,60.4,60.1,60.3,60.2,60.4,60.2,60.1],
  [67.0,65.2,65.8,65.5,65.9,66.0,65.6,65.4, 65.5,65.7,65.4,65.6,65.5,65.8,65.3,65.5,65.7,65.4, 65.6,65.5,65.8,65.4,65.5,65.7,65.3,65.6,65.8,65.5, 65.6,65.4,65.5,65.7,65.5,65.8,65.4,65.6,65.5,65.7, 65.5,65.6,65.4,65.7,65.5,65.8,65.5,65.6],
  [68.0,65.6,66.2,66.4,66.8,66.6,66.2,65.9, 66.0,66.2,65.9,66.1,66.0,66.3,65.8,66.0,66.2,65.9, 66.1,66.0,66.3,65.9,66.0,66.2,65.8,66.1,66.3,66.0, 66.1,65.9,66.0,66.2,66.0,66.3,65.9,66.1,66.0,66.2, 66.0,66.1,65.9,66.2,66.0,66.3,66.0,66.1],
  [66.5,63.4,63.9,64.2,64.6,64.4,64.0,63.7, 63.8,64.0,63.7,63.9,63.8,64.1,63.6,63.8,64.0,63.7, 63.9,63.8,64.1,63.7,63.8,64.0,63.6,63.9,64.1,63.8, 63.9,63.7,63.8,64.0,63.8,64.1,63.7,63.9,63.8,64.0, 63.8,63.9,63.7,64.0,63.8,64.1,63.8,63.9],
  [68.5,66.2,66.8,67.0,67.3,67.0,66.7,66.4, 66.5,66.7,66.4,66.6,66.5,66.8,66.3,66.5,66.7,66.4, 66.6,66.5,66.8,66.4,66.5,66.7,66.3,66.6,66.8,66.5, 66.6,66.4,66.5,66.7,66.5,66.8,66.4,66.6,66.5,66.7, 66.5,66.6,66.4,66.7,66.5,66.8,66.5,66.6],
  [69.0,66.6,67.2,67.5,67.9,67.6,67.2,66.9, 67.0,67.2,66.9,67.1,67.0,67.3,66.8,67.0,67.2,66.9, 67.1,67.0,67.3,66.9,67.0,67.2,66.8,67.1,67.3,67.0, 67.1,66.9,67.0,67.2,67.0,67.3,66.9,67.1,67.0,67.2, 67.0,67.1,66.9,67.2,67.0,67.3,67.0,67.1],
  [68.8,65.3,65.9,66.3,66.8,66.5,66.0,65.7, 65.8,66.0,65.7,65.9,65.8,66.1,65.6,65.8,66.0,65.7, 65.9,65.8,66.1,65.7,65.8,66.0,65.6,65.9,66.1,65.8, 65.9,65.7,65.8,66.0,65.8,66.1,65.7,65.9,65.8,66.0, 65.8,65.9,65.7,66.0,65.8,66.1,65.8,65.9],
  [68.0,62.5,62.4,62.9,63.5,63.7,63.2,62.8, 62.7,62.9,62.6,62.8,62.7,63.0,62.5,62.8,63.0,62.7, 62.9,62.8,63.1,62.7,62.9,63.1,62.6,62.9,63.2,62.9, 63.0,62.8,62.9,63.1,62.9,63.2,62.8,63.0,62.9,63.1, 62.9,63.0,62.8,63.1,62.9,63.2,62.9,63.0],
  [70.4,66.8,67.3,67.8,68.3,68.0,67.5,67.1, 67.2,67.4,67.1,67.3,67.2,67.5,67.0,67.2,67.4,67.1, 67.3,67.2,67.5,67.1,67.2,67.4,67.0,67.3,67.5,67.2, 67.3,67.1,67.2,67.4,67.2,67.5,67.1,67.3,67.2,67.4, 67.2,67.3,67.1,67.4,67.2,67.5,67.2,67.3],
  [57.0,54.5,53.9,54.1,54.8,55.0,54.6,54.1, 53.9,53.8,53.9,53.7,53.9,54.0,53.8,54.1,54.0,54.2, 54.1,54.3,54.1,54.4,54.2,54.3,54.1,54.3,54.5,54.2, 54.4,54.1,54.3,54.5,54.2,54.4,54.6,54.3,54.5,54.7, 54.4,54.6,54.5,54.7,54.4,54.6,54.5,54.6],
  [45.0,42.3,41.9,41.8,42.4,42.9,42.6,42.0, 42.0,41.9,42.0,42.1,41.9,42.3,42.5,42.4,42.7,42.6, 42.8,42.7,43.0,42.8,42.9,42.7,43.0,42.8,42.9,42.7, 42.9,42.8,43.0,42.8,43.1,42.9,43.3,43.1,43.5,43.2, 43.4,43.3,43.6,43.3,43.5,43.6,43.4,43.5],
];

// annotation values (data coordinates)
const SILU_ANNOT = { fn: "SiLU", threshold: -11.85, arrowFrom: -10.9, arrowTo: 0.3, arrowY: 80, textX: -10.9, textY: 85.1 };
const RELU_ANNOT = { fn: "ReLU", threshold: 0, arrowFrom: 0.95, arrowTo: 12.1, arrowY: 80, textX: 1.0, textY: 85.1 };

// ======================= STYLE =======================
const SANS = '"DejaVu Sans Condensed", "DejaVu Sans", sans-serif';
const SERIF = '"Liberation Serif", "DejaVu Serif", serif';
const INK = "#262626";
const GRID = "#d3d3d3";

function hexToRgb(hex: string): number[] {
  const h = hex.replace("#", "");
  return [0, 2, 4].map((i) => parseInt(h.slice(i, i + 2), 16));
}
function layerColor(layer: number): string {
  const t = (layer - 1) / (N_LAYERS - 1);
  const seg = t * (CMAP_STOPS.length - 1);
  const i = Math.min(Math.floor(seg), CMAP_STOPS.length - 2);
  const f = seg - i;
  const a = hexToRgb(CMAP_STOPS[i]);
  const b = hexToRgb(CMAP_STOPS[i + 1]);
  const c = a.map((v, k) => Math.round(v + (b[k] - v) * f));
  return `rgb(${c[0]},${c[1]},${c[2]})`;
}

const decorPlugin = {
  id: "decor",
  afterDatasetsDraw(chart: any, _args: any, opts: any) {
    const { ctx, chartArea: a } = chart;
    const xs = chart.scales.x;
    const ys = chart.scales.y;
    ctx.save();
    const an = opts.annot;
    if (an) {
      // dotted threshold line
      const xt = xs.getPixelForValue(an.threshold);
      ctx.strokeStyle = "#8c8c8c";
      ctx.lineWidth = 9;
      ctx.lineCap = "butt";
      ctx.setLineDash([9, 17]);
      ctx.beginPath();
      ctx.moveTo(xt, a.top);
      ctx.lineTo(xt, a.bottom);
      ctx.stroke();
      ctx.setLineDash([]);
      // arrow
      const ay = ys.getPixelForValue(an.arrowY);
      const ax0 = xs.getPixelForValue(an.arrowFrom);
      const ax1 = xs.getPixelForValue(an.arrowTo);
      ctx.strokeStyle = "#505050";
      ctx.fillStyle = "#505050";
      ctx.lineWidth = 6;
      ctx.beginPath();
      ctx.moveTo(ax0, ay);
      ctx.lineTo(ax1 - 30, ay);
      ctx.stroke();
      ctx.beginPath();
      ctx.moveTo(ax1, ay);
      ctx.lineTo(ax1 - 33, ay - 8.5);
      ctx.lineTo(ax1 - 33, ay + 8.5);
      ctx.closePath();
      ctx.fill();
      // label
      let tx = xs.getPixelForValue(an.textX);
      const ty = ys.getPixelForValue(an.textY);
      ctx.textAlign = "left";
      ctx.textBaseline = "alphabetic";
      const parts: [string, string][] = [
        [an.fn, `54px ${SANS}`],
        ["(", `54px ${SERIF}`],
        ["x", `italic 54px ${SERIF}`],
        [")", `54px ${SERIF}`],
        ["\u2260 0", `54px ${SERIF}`],
      ];
      for (const [t, f] of parts) {
        ctx.font = f;
        ctx.fillText(t, tx, ty);
        tx += ctx.measureText(t).width;
      }
    }
    // axes frame
    ctx.strokeStyle = INK;
    ctx.lineWidth = 2.5;
    ctx.strokeRect(a.left, a.top, a.right - a.left, a.bottom - a.top);
    // colour bar
    const cbL = a.right + opts.cbOffset;
    const cbW = 34;
    const top = a.top;
    const bot = a.bottom;
    const H = bot - top;
    const band = H / N_LAYERS;
    for (let i = 0; i < N_LAYERS; i++) {
      ctx.fillStyle = layerColor(i + 1);
      const y0 = bot - (i + 1) * band;
      ctx.fillRect(cbL, y0, cbW, i === N_LAYERS - 1 ? band : band + 0.8);
    }
    ctx.strokeStyle = INK;
    ctx.lineWidth = 2;
    ctx.strokeRect(cbL, top, cbW, H);
    ctx.fillStyle = INK;
    ctx.font = `42px ${SERIF}`;
    ctx.textAlign = "left";
    ctx.textBaseline = "middle";
    for (const v of LAYER_TICKS) {
      const y = bot - ((v - 1) / (N_LAYERS - 1)) * H;
      ctx.beginPath();
      ctx.moveTo(cbL + cbW, y);
      ctx.lineTo(cbL + cbW + 9, y);
      ctx.stroke();
      ctx.fillText(String(v), cbL + cbW + 17, y);
    }
    ctx.translate(cbL + cbW + 90, (top + bot) / 2);
    ctx.rotate(-Math.PI / 2);
    ctx.font = `46px ${SANS}`;
    ctx.textAlign = "center";
    ctx.textBaseline = "middle";
    ctx.fillText("Layer", 0, 0);
    ctx.restore();
  },
};

type Panel = {
  left: number; top: number; width: number; height: number;
  axisW: number; axisH: number; padTop: number; padRight: number;
  xMin: number; xMax: number; xTicks: number[]; xFmt: (v: number) => string;
  yMin: number; yMax: number; yTicks: number[]; yFmt: (v: number) => string;
  xTitle: string; yTitle: string; yTitlePad: number; xTickPad: number; yTickPad: number;
  xs: number[]; series: number[][]; lineWidth: number; cbOffset: number; annot?: any;
};

const fmtSigned = (v: number) => (v < 0 ? "\u2212" + Math.abs(v) : String(v));
const fmtInt = (v: number) => String(v);
const fmt2 = (v: number) => v.toFixed(2);

const PANELS: Panel[] = [
  {
    left: 90, top: 265, width: 1320, height: 845, axisW: 207, axisH: 145, padTop: 50, padRight: 229,
    xMin: -15, xMax: 15, xTicks: HIST_X_TICKS, xFmt: fmtSigned,
    yMin: 0, yMax: 100, yTicks: HIST_Y_TICKS, yFmt: fmtInt,
    xTitle: "Pre-Activation Value", yTitle: "Ratio (%)", yTitlePad: 31, xTickPad: 15, yTickPad: 20,
    xs: X_HIST, series: SILU_RATIO, lineWidth: 8.5, cbOffset: 55, annot: SILU_ANNOT,
  },
  {
    left: 1440, top: 265, width: 1325, height: 845, axisW: 211, axisH: 145, padTop: 50, padRight: 231,
    xMin: -15, xMax: 15, xTicks: HIST_X_TICKS, xFmt: fmtSigned,
    yMin: 0, yMax: 100, yTicks: HIST_Y_TICKS, yFmt: fmtInt,
    xTitle: "Pre-Activation Value", yTitle: "Ratio (%)", yTitlePad: 33, xTickPad: 15, yTickPad: 20,
    xs: X_HIST, series: RELU_RATIO, lineWidth: 8.5, cbOffset: 57, annot: RELU_ANNOT,
  },
  {
    left: 90, top: 1168, width: 1331, height: 842, axisW: 232, axisH: 143, padTop: 50, padRight: 228,
    xMin: -8, xMax: 212, xTicks: SILU_TOKEN_TICKS, xFmt: fmtInt,
    yMin: -0.02, yMax: 1.0, yTicks: SILU_SPARSITY_TICKS, yFmt: fmt2,
    xTitle: "Tokens", yTitle: "Activation Sparsity (%)", yTitlePad: 43, xTickPad: 18, yTickPad: 17,
    xs: TOKENS_SILU, series: SILU_SPARSITY, lineWidth: 8, cbOffset: 54,
  },
  {
    left: 1440, top: 1152, width: 1324, height: 852, axisW: 184, axisH: 145, padTop: 50, padRight: 229,
    xMin: -8, xMax: 212, xTicks: RELU_TOKEN_TICKS, xFmt: fmtInt,
    yMin: 25, yMax: 75, yTicks: RELU_SPARSITY_TICKS, yFmt: fmtInt,
    xTitle: "Tokens", yTitle: "Activation Sparsity (%)", yTitlePad: 33, xTickPad: 17, yTickPad: 17,
    xs: TOKENS_RELU, series: RELU_SPARSITY, lineWidth: 8, cbOffset: 55,
  },
];

function buildConfig(p: Panel): any {
  const datasets = p.series.map((row, i) => ({
    data: row.map((y, j) => ({ x: p.xs[j], y })),
    borderColor: layerColor(i + 1),
    backgroundColor: layerColor(i + 1),
    borderWidth: p.lineWidth,
    pointRadius: 0,
    fill: false,
    tension: 0,
    borderJoinStyle: "round",
    borderCapStyle: "round",
    order: N_LAYERS - 1 - i,
    clip: 0,
  }));
  const tickFont = { family: SERIF, size: 55, lineHeight: 1 };
  const titleFont = { family: SANS, size: 62, lineHeight: 1 };
  return {
    type: "line",
    data: { datasets },
    plugins: [decorPlugin],
    options: {
      responsive: false,
      animation: false,
      devicePixelRatio: 1,
      events: [],
      layout: { padding: { left: 0, top: p.padTop, right: p.padRight, bottom: 0 } },
      plugins: {
        legend: { display: false },
        tooltip: { enabled: false },
        decor: { cbOffset: p.cbOffset, annot: p.annot },
      },
      scales: {
        x: {
          type: "linear",
          min: p.xMin,
          max: p.xMax,
          afterBuildTicks: (s: any) => { s.ticks = p.xTicks.map((v) => ({ value: v })); },
          afterFit: (s: any) => { s.height = p.axisH; },
          grid: { color: GRID, lineWidth: 2.5, drawTicks: false },
          border: { display: false },
          ticks: {
            padding: p.xTickPad, color: INK, font: tickFont, autoSkip: false, maxRotation: 0,
            callback: (v: any) => p.xFmt(Number(v)),
          },
          title: { display: true, text: p.xTitle, color: INK, font: titleFont, padding: { top: 0, bottom: 0 } },
        },
        y: {
          type: "linear",
          min: p.yMin,
          max: p.yMax,
          afterBuildTicks: (s: any) => { s.ticks = p.yTicks.map((v) => ({ value: v })); },
          afterFit: (s: any) => { s.width = p.axisW; },
          grid: { color: GRID, lineWidth: 2.5, drawTicks: false },
          border: { display: false },
          ticks: {
            padding: p.yTickPad, color: INK, font: tickFont, autoSkip: false,
            callback: (v: any) => p.yFmt(Number(v)),
          },
          title: { display: true, text: p.yTitle, color: INK, font: titleFont, padding: { top: p.yTitlePad, bottom: 0 } },
        },
      },
    },
  };
}

function ChartPanel({ p }: { p: Panel }) {
  const ref = useRef<HTMLCanvasElement>(null);
  useEffect(() => {
    if (!ref.current) return;
    const chart = new Chart(ref.current, buildConfig(p));
    return () => chart.destroy();
  }, [p]);
  return (
    <canvas
      ref={ref}
      width={p.width}
      height={p.height}
      style={{ position: "absolute", left: p.left, top: p.top, width: p.width, height: p.height }}
    />
  );
}

export default function App() {
  return (
    <div style={{ position: "absolute", left: 0, top: 0, width: 2792, height: 2011, background: "#ffffff", overflow: "hidden" }}>
      {PANELS.map((p, i) => (
        <ChartPanel key={i} p={p} />
      ))}
      <svg width={2792} height={2011} style={{ position: "absolute", left: 0, top: 0, pointerEvents: "none" }}>
        <line x1={68} y1={0} x2={68} y2={2011} stroke="#6e6e6e" strokeWidth={2.5} />
        <line x1={2767} y1={0} x2={2767} y2={2011} stroke="#6e6e6e" strokeWidth={2.5} />
        <text x={1417} y={89} textAnchor="middle" fontFamily={SANS} fontSize={87} fill="#000">relufication</text>
        <path d="M1081,257 Q1417,10 1730,237" fill="none" stroke="#000" strokeWidth={5.5} />
        <polygon points="1754,255 1722.6,247.1 1736.8,227.7" fill="#000" />
      </svg>
    </div>
  );
}
